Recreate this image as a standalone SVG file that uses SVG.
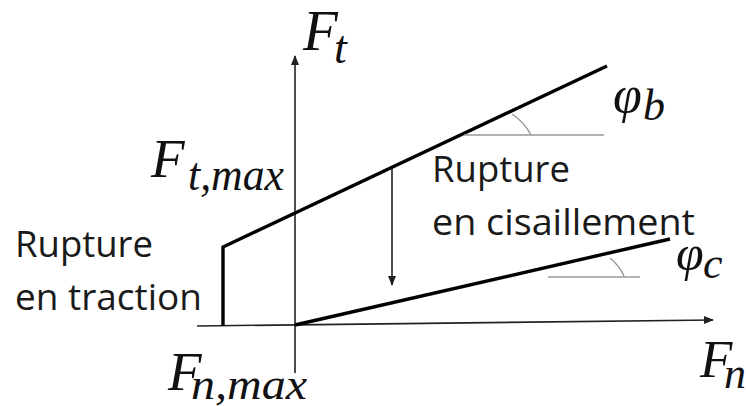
<svg xmlns="http://www.w3.org/2000/svg" width="746" height="406" viewBox="0 0 746 406">
<defs>
<style>
.math{font-family:"Liberation Serif","DejaVu Serif",serif;font-style:italic;fill:#111}
.lbl{font-family:"Open Sans","Noto Sans",sans-serif;font-size:37px;fill:#1a1a1a}
.axis{stroke:#222;stroke-width:1.6;fill:none}
.env{stroke:#000;stroke-width:3.4;fill:none;stroke-linejoin:miter}
.ang{stroke:#999;stroke-width:1.5;fill:none}
</style>
<marker id="ah" markerWidth="10" markerHeight="10" refX="9" refY="5" orient="auto" markerUnits="userSpaceOnUse">
<path d="M0,1 L10,5 L0,9 Z" fill="#222"/>
</marker>
</defs>
<rect width="746" height="406" fill="#fff"/>

<g id="axes">
<line class="axis" x1="295" y1="373" x2="295" y2="56" marker-end="url(#ah)"/>
<line class="axis" x1="197" y1="326" x2="713" y2="320" stroke-width="2" marker-end="url(#ah)"/>
</g>

<g id="connectors">
<polyline class="env" points="223,326 223,247 607,66"/>
<line class="env" x1="295" y1="325" x2="670" y2="239"/>
<line class="axis" x1="392" y1="168" x2="392" y2="285" stroke-width="1.4" marker-end="url(#ah)"/>
<line class="ang" x1="464" y1="135" x2="604" y2="135"/>
<path class="ang" d="M512,114 A58,58 0 0 1 531,135"/>
<line class="ang" x1="548" y1="277" x2="640" y2="277" stroke="#bbb"/>
<path class="ang" d="M610,258 A50,50 0 0 1 624,276"/>
</g>

<g id="labels">
<text class="math" x="303" y="50" font-size="57">F</text>
<text class="math" x="334" y="63" font-size="46">t</text>

<text class="math" x="151" y="177" font-size="55">F</text>
<text class="math" x="188" y="190" font-size="46" textLength="96" lengthAdjust="spacingAndGlyphs">t,max</text>

<text class="math" x="168" y="390" font-size="55">F</text>
<text class="math" x="191" y="399" font-size="44" textLength="116" lengthAdjust="spacingAndGlyphs">n,max</text>

<text class="math" x="700" y="377" font-size="53">F</text>
<text class="math" x="724" y="388" font-size="44">n</text>

<text class="math" x="613" y="112" font-size="52">φ</text>
<text class="math" x="643" y="120" font-size="44">b</text>

<text class="math" x="676" y="270" font-size="50">φ</text>
<text class="math" x="703" y="278" font-size="44">c</text>

<text class="lbl" x="432" y="182" textLength="138" lengthAdjust="spacingAndGlyphs">Rupture</text>
<text class="lbl" x="432" y="235" textLength="263" lengthAdjust="spacingAndGlyphs">en cisaillement</text>
<text class="lbl" x="15" y="257" textLength="138" lengthAdjust="spacingAndGlyphs">Rupture</text>
<text class="lbl" x="15" y="310" textLength="187" lengthAdjust="spacingAndGlyphs">en traction</text>
</g>
</svg>
